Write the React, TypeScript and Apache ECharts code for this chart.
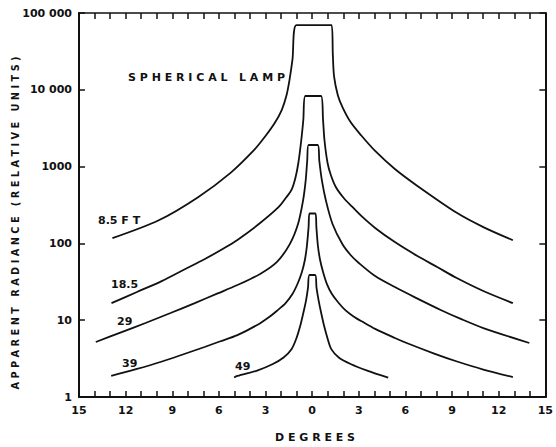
import React, { useEffect, useRef } from "react";
import * as echarts from "echarts";

// Angle (degrees) vs apparent radiance (relative units), spherical lamp
const curve85ft: [number, number][] = [
  [-12.85, 117], [-9.87, 200], [-7.34, 400], [-5.25, 830], [-3.73, 1650], [-3.04, 2450],
  [-2.41, 3700], [-1.96, 5450], [-1.65, 8500], [-1.46, 13400], [-1.27, 24500], [-1.01, 69500],
  [1.25, 69500], [1.33, 28400], [1.41, 14800], [1.65, 8500], [1.94, 6000], [2.47, 3800],
  [3.16, 2540], [4.05, 1600], [5.32, 930], [6.77, 560], [9.3, 250], [11.01, 163], [12.91, 110],
];
const curve185: [number, number][] = [
  [-12.91, 16.7], [-11.27, 23.3], [-9.68, 32.3], [-8.16, 46.4], [-6.9, 62.7], [-5.76, 84.6],
  [-4.81, 111], [-3.35, 184], [-2.15, 298], [-1.65, 402], [-1.33, 496], [-1.08, 711],
  [-0.89, 1114], [-0.7, 2220], [-0.57, 4040], [-0.44, 8300], [0.57, 8300], [0.7, 4040],
  [0.79, 2220], [0.99, 1114], [1.2, 777], [1.52, 542], [2.03, 390], [2.59, 298], [3.23, 221],
  [4.05, 159], [5.32, 104], [6.77, 68.5], [8.04, 49.3], [9.3, 35.4], [11.01, 24], [12.91, 16.7],
];
const curve29: [number, number][] = [
  [-13.92, 5.2], [-12.34, 6.9], [-10.72, 9.2], [-9.11, 12.4], [-7.55, 16.7], [-6.08, 22.3],
  [-4.81, 28.7], [-3.35, 40], [-2.28, 57], [-1.44, 98], [-0.91, 179], [-0.59, 357],
  [-0.42, 650], [-0.32, 1183], [-0.23, 1910], [0.36, 1910], [0.46, 1183], [0.63, 650],
  [0.89, 357], [1.31, 179], [1.94, 98], [2.47, 70.6], [3.0, 55.6], [4.05, 37.6], [5.32, 27],
  [6.58, 20], [8.27, 13.6], [9.56, 10.4], [11.01, 7.9], [13.97, 5.05],
];
const curve39: [number, number][] = [
  [-12.93, 1.88], [-11.33, 2.3], [-9.66, 2.9], [-8.23, 3.63], [-6.92, 4.48], [-5.95, 5.28],
  [-4.81, 6.4], [-3.54, 8.66], [-2.72, 11.2], [-2.28, 13.2], [-1.71, 16.7], [-1.27, 21.9],
  [-0.92, 30.5], [-0.66, 42.4], [-0.47, 60.8], [-0.34, 92.5], [-0.23, 164], [-0.17, 245],
  [0.21, 245], [0.27, 164], [0.37, 92.5], [0.51, 60.8], [0.7, 42.4], [0.95, 29.5], [1.27, 21.9],
  [1.68, 17], [2.15, 13.4], [2.66, 11.2], [3.21, 9.6], [4.05, 7.7], [5.32, 5.87], [6.16, 4.97],
  [7.85, 3.68], [9.32, 2.9], [11.01, 2.28], [12.91, 1.82],
];
const curve49: [number, number][] = [
  [-5.02, 1.79], [-4.81, 1.88], [-3.54, 2.21], [-2.53, 2.69], [-1.84, 3.27], [-1.33, 4.2],
  [-1.03, 5.7], [-0.77, 8.4], [-0.57, 12.4], [-0.39, 18.3], [-0.27, 26.3], [-0.17, 38.8],
  [0.19, 38.8], [0.28, 26.3], [0.41, 18.3], [0.58, 12.4], [0.77, 8.4], [1.0, 5.7], [1.23, 4.2],
  [1.71, 3.27], [2.47, 2.69], [3.54, 2.21], [4.89, 1.79],
];

const yTickValues = [1, 10, 100, 1000, 10000, 100000];
const yTickLabels = ["1", "10", "100", "1000", "10 000", "100 000"];

const curveLabels = ["8.5 F T", "18.5", "29", "39", "49"];
const titleText = "S P H E R I C A L   L A M P";
const xAxisTitle = "D E G R E E S";
const yAxisTitle = "A P P A R E N T   R A D I A N C E   ( R E L A T I V E   U N I T S )";

const FONT = "'DejaVu Sans', sans-serif";
const INK = "#111";

export default function App() {
  const ref = useRef<HTMLDivElement>(null);
  useEffect(() => {
    if (!ref.current) return;
    const chart = echarts.init(ref.current, undefined, { renderer: "svg" });
    const tickStyle = { color: INK, width: 1.5 };
    const xBase = {
      type: "value" as const,
      min: -15,
      max: 15,
      interval: 3,
      axisTick: { show: true, inside: true, length: 6, lineStyle: tickStyle },
      minorTick: { show: true, splitNumber: 3, length: 6, lineStyle: tickStyle },
      splitLine: { show: false },
      minorSplitLine: { show: false },
    };
    const yBase = {
      type: "log" as const,
      logBase: 10,
      min: 1,
      max: 100000,
      splitNumber: 5,
      axisLine: { show: true, onZero: false, lineStyle: { color: INK, width: 2 } },
      axisTick: { show: true, inside: true, length: 6, lineStyle: tickStyle },
      splitLine: { show: false },
    };
    const seriesList = [curve85ft, curve185, curve29, curve39, curve49].map((d) => ({
      type: "line" as const,
      data: d,
      showSymbol: false,
      symbol: "none",
      smooth: 0.3,
      lineStyle: { color: INK, width: 1.8 },
      clip: false,
      silent: true,
    }));
    const txt = (text: string, x: number, y: number, extra: any = {}) => ({
      type: "text",
      x,
      y,
      silent: true,
      rotation: extra.rotation || 0,
      style: {
        text,
        fill: INK,
        font: `bold ${extra.size || 11}px ${FONT}`,
        align: extra.align || "left",
        verticalAlign: "middle",
      },
    });
    chart.setOption({
      animation: false,
      backgroundColor: "#fff",
      grid: { left: 79, right: 3, top: 13, bottom: 50, containLabel: false },
      xAxis: [
        {
          ...xBase,
          position: "bottom",
          axisLine: { show: true, onZero: false, lineStyle: { color: INK, width: 2 } },
          axisLabel: {
            color: INK,
            fontSize: 11,
            fontWeight: "bold",
            fontFamily: FONT,
            margin: 8,
            showMinLabel: true,
            showMaxLabel: true,
            formatter: (v: number) => String(Math.abs(v)),
          },
        },
        {
          ...xBase,
          position: "top",
          axisLine: { show: true, onZero: false, lineStyle: { color: INK, width: 1.5 } },
          axisLabel: { show: false },
        },
      ],
      yAxis: [
        {
          ...yBase,
          position: "left",
          axisLabel: {
            color: INK,
            fontSize: 11,
            fontWeight: "bold",
            fontFamily: FONT,
            margin: 7,
            formatter: (v: number) => {
              const i = yTickValues.findIndex((t) => Math.abs(t - v) / t < 1e-6);
              return i >= 0 ? yTickLabels[i] : "";
            },
          },
        },
        { ...yBase, position: "right", axisLabel: { show: false } },
      ],
      series: seriesList,
      graphic: [
        txt(titleText, 128, 77),
        txt(curveLabels[0], 98, 220),
        txt(curveLabels[1], 111, 284),
        txt(curveLabels[2], 117, 321),
        txt(curveLabels[3], 122, 363),
        txt(curveLabels[4], 235, 366),
        txt(xAxisTitle, 315, 437, { align: "center" }),
        txt(yAxisTitle, 15, 223, { align: "center", rotation: Math.PI / 2, size: 9.8 }),
      ],
    });
    return () => chart.dispose();
  }, []);
  return (
    <div
      ref={ref}
      style={{ position: "fixed", left: 0, top: 0, width: 556, height: 447, background: "#fff" }}
    />
  );
}
